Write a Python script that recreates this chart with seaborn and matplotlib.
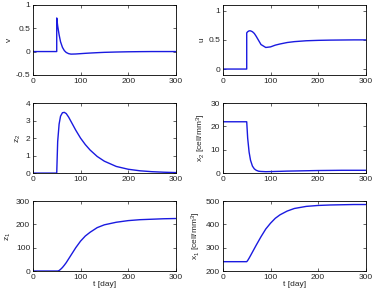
import numpy as np
import pandas as pd
import seaborn as sns
import matplotlib.pyplot as plt
from matplotlib.ticker import FuncFormatter

# time grid (duplicate 50 = switch-on of treatment)
t = [0, 50, 50, 52, 55, 58, 62, 66, 70, 75, 80, 90, 100, 110, 120, 135, 150, 175, 200, 225, 250, 275, 300]

v = [0, 0, 0.72, 0.55, 0.36, 0.21, 0.09, 0.02, -0.02, -0.045, -0.055, -0.052, -0.045, -0.038, -0.032, -0.024, -0.017, -0.01, -0.005, -0.002, 0, 0, 0]
u = [0, 0, 0.62, 0.64, 0.655, 0.655, 0.64, 0.61, 0.56, 0.49, 0.42, 0.37, 0.38, 0.41, 0.43, 0.455, 0.47, 0.485, 0.492, 0.496, 0.498, 0.5, 0.5]
z2 = [0, 0, 0, 1.8, 2.8, 3.25, 3.45, 3.47, 3.4, 3.2, 2.95, 2.45, 2.0, 1.63, 1.32, 0.95, 0.68, 0.38, 0.22, 0.13, 0.08, 0.05, 0.03]
x2 = [22, 22, 22, 15, 9, 5.5, 3, 1.8, 1.2, 0.8, 0.7, 0.6, 0.65, 0.7, 0.75, 0.85, 0.9, 1.0, 1.1, 1.15, 1.2, 1.2, 1.2]
z1 = [0, 0, 0, 0, 2, 7, 15, 25, 36, 52, 68, 100, 128, 150, 166, 186, 198, 209, 216, 220, 222, 224, 225]
x1 = [240, 240, 240, 245, 255, 266, 281, 296, 311, 329, 347, 380, 405, 426, 441, 457, 468, 477, 481, 483, 484, 485, 485]

panels = [
    (v, "v", (-0.5, 1), [-0.5, 0, 0.5, 1]),
    (u, "u", (-0.1, 1.1), [0, 0.5, 1]),
    (z2, "z$_2$", (0, 4), [0, 1, 2, 3, 4]),
    (x2, "x$_2$ [cell/mm$^3$]", (0, 30), [0, 10, 20, 30]),
    (z1, "z$_1$", (0, 300), [0, 100, 200, 300]),
    (x1, "x$_1$ [cell/mm$^3$]", (200, 500), [200, 300, 400, 500]),
]

sns.set_style("ticks", {"xtick.direction": "in", "ytick.direction": "in"})
plt.rcParams["font.family"] = ["Liberation Sans", "DejaVu Sans"]
plt.rcParams["mathtext.fontset"] = "custom"
plt.rcParams["mathtext.rm"] = "Liberation Sans"
plt.rcParams["mathtext.it"] = "Liberation Sans"

fmt = FuncFormatter(lambda val, pos: "%g" % val)

fig = plt.figure(figsize=(3.74, 2.88), dpi=100)
lefts = [0.088, 0.596]
bottoms = [0.740, 0.399, 0.059]
for i, (y, lab, ylim, yt) in enumerate(panels):
    r, c = divmod(i, 2)
    ax = fig.add_axes([lefts[c], bottoms[r], 0.382, 0.243])
    df = pd.DataFrame({"t": t, "y": y})
    sns.lineplot(data=df, x="t", y="y", ax=ax, color="#1a1ae0", lw=1.0,
                 estimator=None, sort=False)
    ax.set_xlim(0, 300)
    ax.set_ylim(*ylim)
    ax.set_xticks([0, 100, 200, 300])
    ax.set_yticks(yt)
    ax.yaxis.set_major_formatter(fmt)
    ax.set_ylabel(lab, fontsize=6, labelpad=2)
    ax.set_xlabel("t [day]" if r == 2 else "", fontsize=6, labelpad=0)
    ax.tick_params(labelsize=6, length=2, width=0.5, pad=2, top=True, right=True)
    for s in ax.spines.values():
        s.set_linewidth(0.6)
        s.set_color("black")

fig.savefig("out.png", dpi=100)
